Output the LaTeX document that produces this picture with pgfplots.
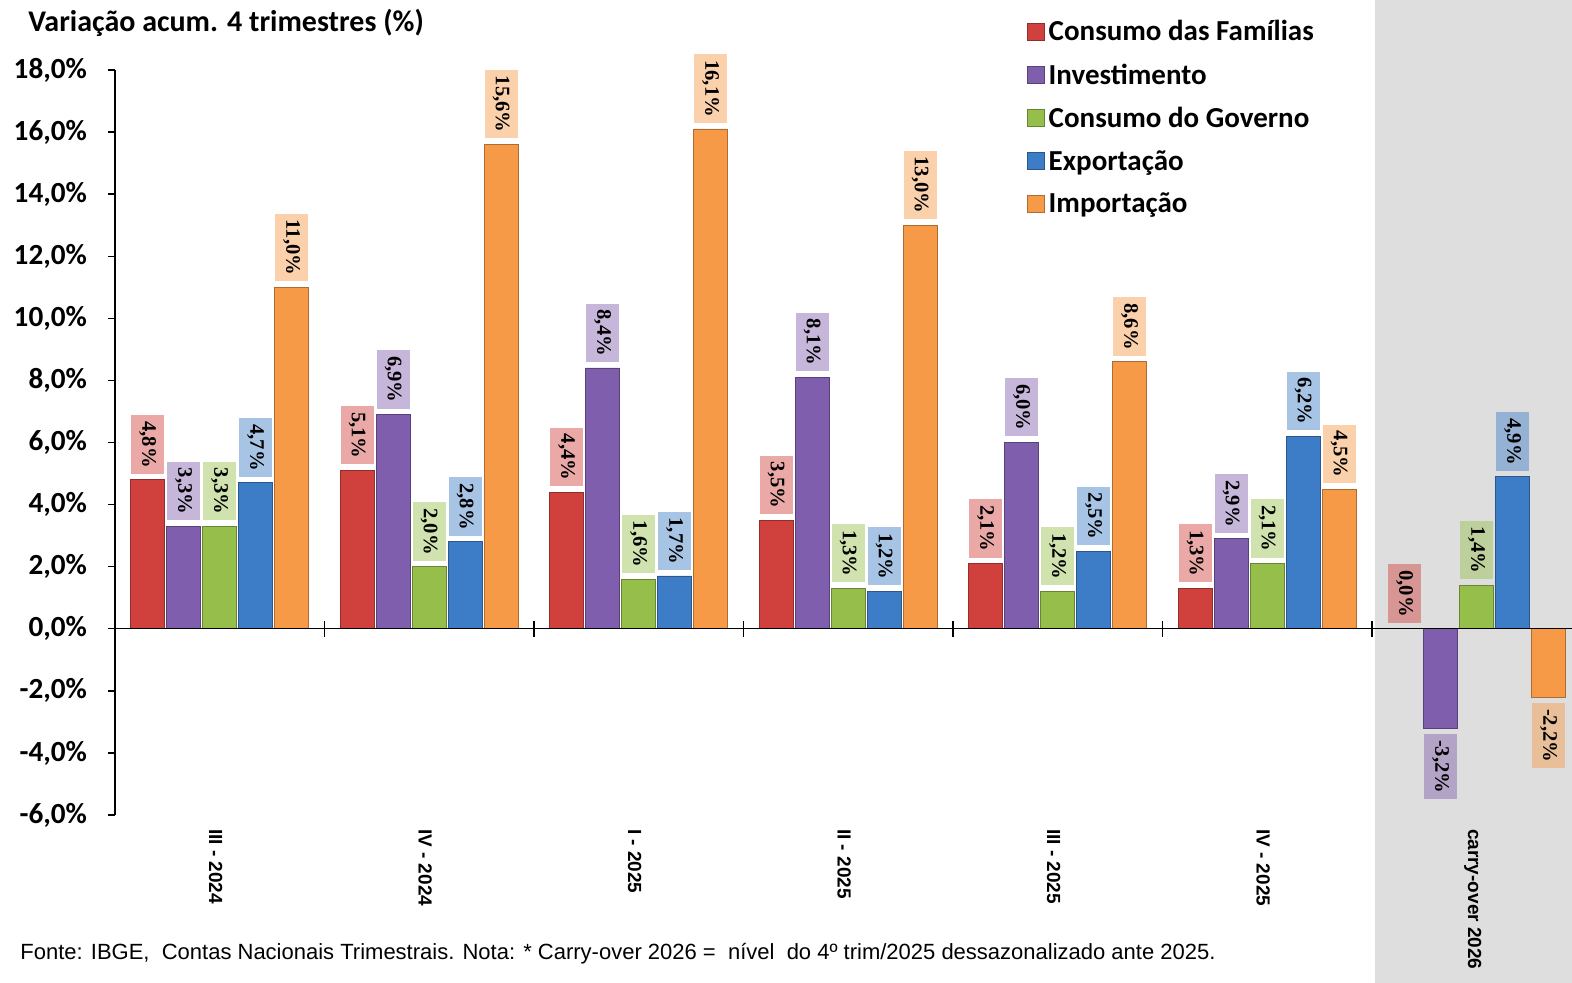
\documentclass[border=0pt]{standalone}
\usepackage{pgfplots}
\pgfplotsset{compat=1.18}
\usepackage{fontspec}
\setmainfont{Carlito}
\newfontfamily\serfont{Liberation Serif}
\newfontfamily\arialfont{Liberation Sans}
\definecolor{cR}{HTML}{D0403C}
\definecolor{cP}{HTML}{7F5EAD}
\definecolor{cG}{HTML}{96BE4A}
\definecolor{cB}{HTML}{3D7CC6}
\definecolor{cO}{HTML}{F79A48}
\definecolor{band}{HTML}{DEDEDE}
\pgfplotsset{
  mybar/.style={
    draw=#1!70!black, line width=0.4pt, fill=#1,
    every node near coord/.append style={fill=#1},
    legend image code/.code={\path[##1] (0pt,-4pt) rectangle (8.5pt,4.5pt);}
  }
}
\begin{document}
\begin{tikzpicture}
\path[use as bounding box] (0,0) rectangle (786pt,491.5pt);
\fill[band] (687.5pt,0) rectangle (786pt,491.5pt);
\node[anchor=west, inner sep=0pt, font=\bfseries\fontsize{15}{17}\selectfont] at (14pt,480pt) {Variação acum. 4 trimestres (\%)};
\node[anchor=west, inner sep=0pt, font=\arialfont\fontsize{11}{13}\selectfont] at (10pt,14.5pt) {Fonte: IBGE,\ \ Contas Nacionais Trimestrais. Nota: * Carry-over 2026 =\ \ nível\ \ do 4º trim/2025 dessazonalizado ante 2025.};
\begin{axis}[
  at={(57.5pt,84pt)}, anchor=south west,
  scale only axis, width=728.5pt, height=372.5pt,
  ybar=1pt, bar width=17pt,
  xmin=-0.5, xmax=6.455, ymin=-6, ymax=18,
  xtick={0,1,2,3,4,5,6},
  xticklabels={III - 2024, IV - 2024, I - 2025, II - 2025, III - 2025, IV - 2025, carry-over 2026},
  xticklabel style={rotate=-90, anchor=west, font=\arialfont\bfseries\fontsize{9.5}{11}\selectfont, yshift=-2pt},
  x tick style={draw=none},
  ytick={-6,-4,...,18},
  yticklabels={{-6,0\%},{-4,0\%},{-2,0\%},{0,0\%},{2,0\%},{4,0\%},{6,0\%},{8,0\%},{10,0\%},{12,0\%},{14,0\%},{16,0\%},{18,0\%}},
  yticklabel style={font=\bfseries\fontsize{14.6}{16}\selectfont, xshift=-7pt},
  tick align=outside, major tick length=3.5pt,
  y tick style={black, line width=0.7pt},
  axis y line*=left, axis x line*=bottom,
  x axis line style={draw=none},
  y axis line style={line width=0.7pt, -},
  axis line style={-},
  nodes near coords={\rotatebox{-90}{\pgfmathprintnumber[fixed,fixed zerofill,precision=1,use comma,assume math mode=true]{\pgfplotspointmeta}\%}},
  every node near coord/.append style={font=\serfont\bfseries\fontsize{10.3}{12}\selectfont, text=black, fill opacity=0.45, text opacity=1, inner xsep=3pt, inner ysep=3pt, minimum width=16.5pt, outer sep=3pt},
  legend style={at={(0.6215,1.078)}, anchor=north west, draw=none, fill=none, font=\bfseries\fontsize{14.5}{17}\selectfont, row sep=6pt, legend cell align=left},
  clip=false,
]
\addplot[mybar=cR] coordinates {(0,4.8) (1,5.1) (2,4.4) (3,3.5) (4,2.1) (5,1.3) (6,0.0)};
\addplot[mybar=cP] coordinates {(0,3.3) (1,6.9) (2,8.4) (3,8.1) (4,6.0) (5,2.9) (6,-3.2)};
\addplot[mybar=cG] coordinates {(0,3.3) (1,2.0) (2,1.6) (3,1.3) (4,1.2) (5,2.1) (6,1.4)};
\addplot[mybar=cB] coordinates {(0,4.7) (1,2.8) (2,1.7) (3,1.2) (4,2.5) (5,6.2) (6,4.9)};
\addplot[mybar=cO] coordinates {(0,11.0) (1,15.6) (2,16.1) (3,13.0) (4,8.6) (5,4.5) (6,-2.2)};
\legend{Consumo das Famílias, Investimento, Consumo do Governo, Exportação, Importação}
\draw[black, line width=0.7pt] (axis cs:-0.5,0) -- (axis cs:6.455,0);
\draw[black, line width=0.7pt] (axis cs:0.5,-0.26) -- (axis cs:0.5,0.26);
\draw[black, line width=0.7pt] (axis cs:1.5,-0.26) -- (axis cs:1.5,0.26);
\draw[black, line width=0.7pt] (axis cs:2.5,-0.26) -- (axis cs:2.5,0.26);
\draw[black, line width=0.7pt] (axis cs:3.5,-0.26) -- (axis cs:3.5,0.26);
\draw[black, line width=0.7pt] (axis cs:4.5,-0.26) -- (axis cs:4.5,0.26);
\draw[black, line width=0.7pt] (axis cs:5.5,-0.26) -- (axis cs:5.5,0.26);
\end{axis}
\end{tikzpicture}
\end{document}
